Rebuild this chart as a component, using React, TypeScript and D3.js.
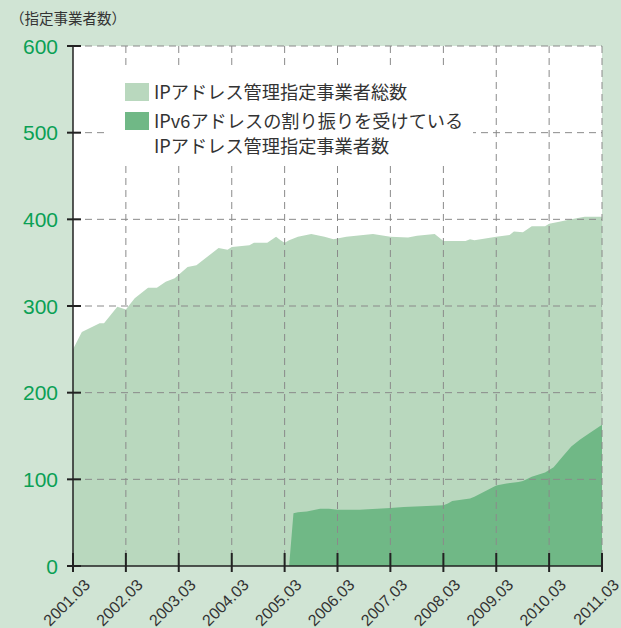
import {useEffect, useRef} from "react";
import * as d3 from "d3";

// total number of designated IP address management operators
const totalDates = [
    "2001.03", "2001.05", "2001.09", "2001.10", "2002.01", "2002.03", "2002.05", "2002.08",
    "2002.10", "2002.12", "2003.02", "2003.05", "2003.07", "2003.09", "2003.12", "2004.02",
    "2004.03", "2004.07", "2004.08", "2004.11", "2005.01", "2005.02", "2005.03", "2005.04",
    "2005.06", "2005.09", "2005.12", "2006.02", "2006.05", "2006.11", "2007.03", "2007.07",
    "2007.09", "2008.01", "2008.03", "2008.08", "2008.09", "2008.10", "2009.03", "2009.06",
    "2009.07", "2009.09", "2009.11", "2010.02", "2010.03", "2010.05", "2010.08", "2010.11",
    "2011.03",
];
const totalValues = [
    250, 270, 280, 280, 299, 296, 309, 321,
    321, 328, 332, 345, 347, 355, 367, 365,
    368, 370, 373, 373, 380, 376, 373, 376,
    380, 383, 380, 377, 380, 383, 380, 379,
    381, 383, 375, 375, 377, 376, 380, 382,
    386, 385, 392, 392, 395, 397, 400, 403,
    403,
];

// operators with an IPv6 allocation
const v6Dates = [
    "2005.04", "2005.05", "2005.06", "2005.08", "2005.11", "2006.01", "2006.03", "2006.08",
    "2007.03", "2007.06", "2007.10", "2008.03", "2008.04", "2008.05", "2008.09", "2008.10",
    "2009.03", "2009.05", "2009.08", "2009.09", "2009.11", "2010.02", "2010.04", "2010.06",
    "2010.08", "2010.10", "2010.12", "2011.03",
];
const v6Values = [
    0, 61, 62, 63, 66, 66, 65, 65,
    67, 68, 69, 70, 72, 75, 78, 80,
    93, 95, 97, 98, 103, 108, 114, 126,
    138, 146, 153, 163,
];

const xTicks = [
    "2001.03", "2002.03", "2003.03", "2004.03", "2005.03", "2006.03",
    "2007.03", "2008.03", "2009.03", "2010.03", "2011.03",
];
const yTicks = [0, 100, 200, 300, 400, 500, 600];

const legendLabels = [
    ["IPアドレス管理指定事業者総数"],
    ["IPv6アドレスの割り振りを受けている", "IPアドレス管理指定事業者数"],
];
const yTitle = "（指定事業者数）";

const BG = "#d0e4d4";
const LIGHT = "#b9d8be";
const DARK = "#70b886";
const LABEL_GREEN = "#0aa055";
const INK = "#222";
const JP = "'Noto Sans CJK JP', 'Liberation Sans', sans-serif";
const LATIN = "'Liberation Sans', Arial, sans-serif";

export default function App() {
    const ref = useRef<SVGSVGElement>(null);

    useEffect(() => {
        const el = ref.current;
        if(!el) return;
        const svg = d3.select(el);
        svg.selectAll("*").remove();

        const width = 621;
        const height = 628;
        const margin = {top: 46, right: 19, bottom: 62, left: 73};

        const parse = d3.timeParse("%Y.%m");
        const total = totalDates.map((d, i) => ({date: parse(d)!, value: totalValues[i]}));
        const v6 = v6Dates.map((d, i) => ({date: parse(d)!, value: v6Values[i]}));

        const x = d3
            .scaleTime()
            .domain([parse(xTicks[0])!, parse(xTicks[xTicks.length - 1])!])
            .range([margin.left, width - margin.right]);
        const y = d3
            .scaleLinear()
            .domain([0, 600])
            .range([height - margin.bottom, margin.top]);

        svg.append("rect").attr("width", width).attr("height", height).attr("fill", BG);
        svg
            .append("rect")
            .attr("x", margin.left)
            .attr("y", margin.top)
            .attr("width", width - margin.left - margin.right)
            .attr("height", height - margin.top - margin.bottom)
            .attr("fill", "#fff");

        const area = d3
            .area<{date: Date; value: number}>()
            .x((d) => x(d.date))
            .y0(y(0))
            .y1((d) => y(d.value));

        svg.append("path").datum(total).attr("d", area).attr("fill", LIGHT);
        svg.append("path").datum(v6).attr("d", area).attr("fill", DARK);

        // dashed grid
        const grid = svg
            .append("g")
            .attr("stroke", "#8a8a8a")
            .attr("stroke-width", 1)
            .attr("stroke-dasharray", "7,5");
        grid
            .selectAll("line.v")
            .data(xTicks.slice(1))
            .join("line")
            .attr("x1", (d) => x(parse(d)!))
            .attr("x2", (d) => x(parse(d)!))
            .attr("y1", y(600))
            .attr("y2", y(0));
        grid
            .selectAll("line.h")
            .data(yTicks.slice(1))
            .join("line")
            .attr("x1", margin.left)
            .attr("x2", width - margin.right)
            .attr("y1", (d) => y(d))
            .attr("y2", (d) => y(d));

        // legend
        const lg = svg.append("g");
        lg.append("rect").attr("x", 105).attr("y", 69).attr("width", 368).attr("height", 96).attr("fill", "#fff");
        const swatchY = [83, 112];
        [LIGHT, DARK].forEach((c, i) => {
            lg.append("rect").attr("x", 125).attr("y", swatchY[i]).attr("width", 24).attr("height", 18).attr("fill", c);
            legendLabels[i].forEach((t, j) => {
                lg
                    .append("text")
                    .attr("x", 154)
                    .attr("y", swatchY[i] + 16 + j * 25)
                    .attr("font-family", JP)
                    .attr("font-size", 18.2)
                    .attr("fill", "#333")
                    .text(t);
            });
        });

        // axes
        const ax = svg.append("g").attr("stroke", INK).attr("stroke-width", 2);
        ax.append("line").attr("x1", margin.left).attr("x2", margin.left).attr("y1", y(600)).attr("y2", y(0)).attr("stroke-width", 1.5);
        ax.append("line").attr("x1", margin.left).attr("x2", width - margin.right).attr("y1", y(0)).attr("y2", y(0)).attr("stroke-width", 1.5);
        ax
            .selectAll("line.yt")
            .data(yTicks)
            .join("line")
            .attr("x1", margin.left - 6)
            .attr("x2", margin.left + 8)
            .attr("y1", (d) => y(d))
            .attr("y2", (d) => y(d));
        ax
            .selectAll("line.xt")
            .data(xTicks)
            .join("line")
            .attr("x1", (d) => x(parse(d)!))
            .attr("x2", (d) => x(parse(d)!))
            .attr("y1", y(0) - 13)
            .attr("y2", y(0) + 6);

        svg
            .append("g")
            .selectAll("text")
            .data(yTicks)
            .join("text")
            .attr("x", 58)
            .attr("y", (d) => y(d))
            .attr("dy", "0.36em")
            .attr("text-anchor", "end")
            .attr("font-family", LATIN)
            .attr("font-size", 21)
            .attr("fill", LABEL_GREEN)
            .text((d) => d);

        svg
            .append("g")
            .selectAll("text")
            .data(xTicks)
            .join("text")
            .attr("transform", (d) => `translate(${x(parse(d)!) + 18},${y(0) + 20}) rotate(-45)`)
            .attr("text-anchor", "end")
            .attr("font-family", LATIN)
            .attr("font-size", 16)
            .attr("fill", "#333")
            .text((d) => d);

        svg
            .append("text")
            .attr("x", 10)
            .attr("y", 24)
            .attr("font-family", JP)
            .attr("font-size", 14.5)
            .attr("fill", "#333")
            .text(yTitle);
    }, []);

    return (
        <svg
            ref={ref}
            width={621}
            height={628}
            style={{position: "absolute", left: 0, top: 0}}
        />
    );
}
